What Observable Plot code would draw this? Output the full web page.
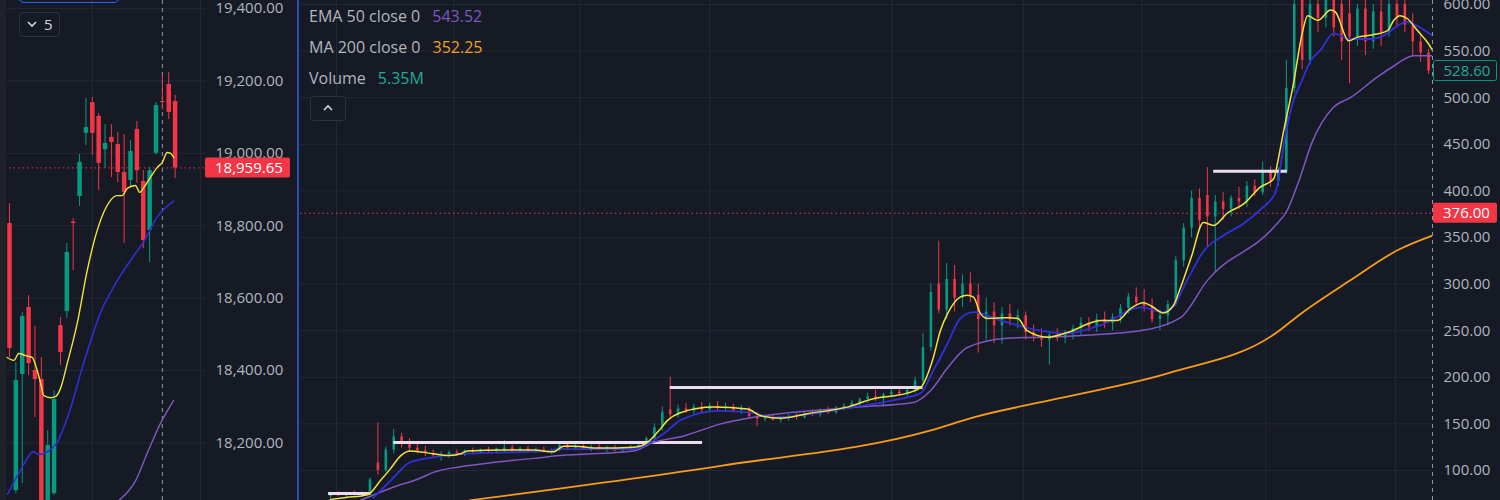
<!DOCTYPE html>
<html>
<head>
<meta charset="utf-8">
<script src="https://cdn.jsdelivr.net/npm/d3@7"></script>
<script src="https://cdn.jsdelivr.net/npm/@observablehq/plot@0.6"></script>
<style>
html,body{margin:0;padding:0;background:#161a25;}
#wrap{position:relative;width:1500px;height:500px;overflow:hidden;background:#161a25;font-family:"Open Sans",sans-serif;}
.pane{position:absolute;top:0;}
.lg{position:absolute;left:309px;font-size:16px;line-height:20px;color:#b2b5be;white-space:nowrap;}
.lg span.v{margin-left:12px;}
.btn{position:absolute;box-sizing:border-box;border:1px solid #2e323e;border-radius:4px;background:#161a25;}
</style>
</head>
<body>
<div id="wrap">
  <div id="leftPane" class="pane" style="left:0"></div>
  <div id="rightPane" class="pane" style="left:300px"></div>
  <div style="position:absolute;left:0;top:0;width:6px;height:500px;background:#202229"></div>
  <div style="position:absolute;left:297px;top:0;width:2px;height:500px;background:#2b4fb8"></div>
  <div style="position:absolute;left:18px;top:-14px;width:102px;height:17px;box-sizing:border-box;border:1.5px solid #2962ff;border-radius:6px"></div>
  <div class="btn" style="left:19px;top:12px;width:41px;height:25px">
    <svg width="39" height="23" style="position:absolute;left:0;top:0">
      <path d="M8,9 L12,13 L16,9" fill="none" stroke="#d1d4dc" stroke-width="1.6"/>
      <text x="24" y="17" fill="#d1d4dc" font-size="15" font-family="Open Sans">5</text>
    </svg>
  </div>
  <div class="btn" style="left:310px;top:96px;width:36px;height:25px">
    <svg width="34" height="23" style="position:absolute;left:0;top:0">
      <path d="M13,13 L17,9 L21,13" fill="none" stroke="#d1d4dc" stroke-width="1.6"/>
    </svg>
  </div>
  <div id="legend"></div>
</div>
<script>
// ---------- data ----------
const leftTicks = [18200, 18400, 18600, 18800, 19000, 19200, 19400];
const rightTicks = [100, 150, 200, 250, 300, 350, 400, 450, 500, 550, 600];
const leftGridBars = [13, 30];
const rightGridBars = [0.76, 15.6, 31.6, 48, 71.1, 87.7, 102.7, 118.4, 134.8];

// left pane (index) candles
const lOpen  = [18806,18068,18389,18574,18400,18375,17990,18060,18524,18563,18810,18881,19055,19140,19102,19010,19044,19024,18947,18925,19066,18922,18787,19000,19143,19190,19143];
const lHigh  = [18861,18422,18560,18607,18522,18436,18234,18345,18546,18751,18820,18997,19151,19154,19110,19079,19079,19057,19052,19035,19088,18952,18961,19140,19215,19223,19160];
const lLow   = [18436,18060,18088,18386,18270,17980,17980,18055,18414,18544,18676,18853,19021,18994,18897,18958,18933,18919,18751,18905,18917,18737,18698,18995,19120,19093,18930];
const lClose = [18461,18372,18549,18419,18375,17990,18193,18320,18450,18726,18806,18975,19071,19055,18972,19027,19030,18947,18892,19005,18952,18759,18952,19132,19140,19113,18959.65];

const lYellow = [[-0.36,18436],[0.68,18428],[1.46,18447],[2.51,18441],[3.56,18436],[4.35,18400],[4.87,18367],[5.38,18331],[6.44,18325],[7.22,18328],[8.0,18350],[9.06,18419],[10.63,18530],[12.2,18676],[13.77,18787],[15.86,18870],[16.9,18883],[17.7,18883],[18.48,18903],[19.78,18911],[20.46,18892],[21,18903],[22.1,18933],[23.2,18961],[24,18975],[24.76,19002],[25.3,19000],[25.8,18988]];
const lBlue = [[-0.31,18058],[1.73,18124],[3.77,18176],[4.55,18168],[7.22,18195],[9.1,18270],[11.6,18418],[14.3,18560],[16.95,18649],[19.47,18716],[21.04,18755],[23.23,18825],[25.75,18868]];
const lPurple = [[17.1,18040],[19.8,18096],[21.8,18179],[23.7,18254],[25.75,18317]];
const leftLast = 18959.65;
const leftCross = 24;

// right pane (stock) candles
const rOpen = [72,74,73,75,74,74,108,100,122,136,128,124,121,118,116,117,119,117,121,120,122,121,121,124,121,123,121,122,120,122,127,124,126,123,125,122,124,121,123,125,127,134,146,165,160,166,164,168,165,169,167,168,164,166,158,155,157,154,156,158,157,161,160,164,162,167,169,172,176,179,177,181,184,182,186,196,232,300,272,305,285,300,288,262,270,255,268,262,266,248,244,240,245,242,247,252,258,254,262,258,264,274,286,280,276,262,266,278,325,360,392,395,372,388,380,392,388,405,398,420,410,420,510,610,540,600,585,610,600,590,565,595,560,592,570,600,600,578,560,548];
const rHigh = [76,77,76,78,77,92,151,125,144,140,134,129,126,122,120,121,122,122,124,123,125,124,132,127,125,126,124,125,123,130,130,128,129,127,128,126,127,125,127,129,136,150,168,200,170,172,171,173,172,174,172,171,170,168,162,160,160,158,160,161,163,165,166,168,169,172,175,178,183,186,183,188,189,188,200,247,300,346,322,320,310,312,300,285,280,275,278,272,270,256,252,248,252,250,256,264,264,268,270,268,278,290,296,294,284,272,282,330,365,400,402,425,395,398,395,404,410,412,431,426,425,540,615,620,615,618,620,625,612,605,600,615,600,608,612,625,615,590,568,552];
const rLow = [70,72,71,73,72,73,95,98,118,124,120,118,115,113,110,113,115,115,118,117,119,118,119,119,118,120,118,119,117,120,122,121,122,120,121,119,120,118,121,122,125,130,142,155,156,161,160,162,162,164,163,162,160,155,147,152,153,151,153,154,155,158,157,160,160,164,166,169,172,174,168,178,180,179,183,192,228,268,262,270,275,280,226,240,236,235,255,252,240,238,232,213,238,236,240,245,249,248,252,250,258,268,276,270,258,250,255,276,318,350,360,340,312,368,372,380,382,394,395,404,405,418,505,530,535,570,575,565,540,515,555,545,552,555,565,575,570,545,538,525];
const rClose = [74,73,75,74,76,90,100,122,136,128,124,121,118,116,117,119,117,121,120,122,121,123,124,121,123,121,122,120,122,127,124,126,123,125,122,124,121,123,125,127,134,146,162,160,166,164,168,165,169,167,168,164,166,158,155,157,154,156,158,157,161,160,164,162,167,169,172,176,179,177,181,184,182,186,196,232,291,272,305,285,300,288,262,270,255,268,262,266,248,244,240,245,242,247,252,258,254,262,258,264,274,286,280,276,262,266,278,325,360,392,368,372,388,380,392,388,405,398,420,410,420,510,600,540,600,585,610,575,560,565,595,560,592,570,600,585,578,560,548,528.6];

const rYellow = [[0,69],[2,71],[4.7,74],[6.3,89],[7.6,102],[8.9,116],[10.1,121],[13,118],[14.8,116],[16.5,118],[17.3,121],[22,122],[25.7,122],[28.2,120],[29.5,126],[30.8,126],[34,124],[38.4,125],[40.1,130],[41.5,142],[42.7,154],[44.3,162],[48.5,168],[52.8,166],[54.4,159],[57,156],[60.4,161],[65.4,168],[68.7,177],[73,183],[74.7,189],[76.3,221],[77.2,250],[78.1,268],[79.7,286],[80.6,288],[81.4,286],[82.3,268],[83.2,263],[85.7,264],[87,263],[88.2,250],[90.8,243],[93.3,248],[97.5,261],[99.6,261],[101.3,274],[102.9,280],[104,276],[105.4,269],[106.7,277],[107.6,296],[109,330],[110.5,366],[111.8,363],[113.5,376],[115.6,386],[117.7,404],[119.4,413],[120,435],[120.6,462],[121.9,515],[123,569],[123.7,588],[125,583],[126.6,594],[127.2,592],[128.9,561],[130,565],[131.6,567],[133.8,572],[134.6,583],[135.4,588],[136.3,585],[137.6,572],[138.9,559],[139.5,551]];
const rBlue = [[5.4,71],[7.6,89],[10.1,109],[13,114],[17.3,118],[27.8,121],[28.6,123],[38.4,123],[40.2,129],[42.7,143],[44.3,154],[49.2,164],[53.2,162],[56.1,157],[66.2,168],[72.2,177],[74.7,183],[76.3,207],[78.1,236],[79.7,263],[81.4,270],[84.8,261],[90,250],[93,247],[97.5,256],[102.6,275],[105.4,270],[106.7,276],[108.5,305],[110.5,335],[113,352],[115.6,365],[117.7,380],[119.6,398],[120.9,461],[121.9,497],[122.8,515],[124.1,540],[125.3,551],[127,569],[129.1,563],[131.6,563],[133.8,569],[135,577],[136.3,581],[137.6,577],[138.9,570],[139.5,567]];
const rPurple = [[3.8,68],[7.6,81],[11.4,92],[13,98],[17.3,105],[25.7,113],[29.1,116],[38.4,121],[40.5,129],[44.7,137],[49.4,150],[52.8,156],[66.7,168],[73.8,173],[76,186],[78.1,210],[80.6,232],[85.7,242],[90,243],[102.5,250],[107.6,264],[111,304],[119.4,361],[121.1,379],[122.6,411],[124.2,451],[127,490],[129.1,500],[132.5,522],[134.6,534],[137.1,545],[139.5,545]];
const rOrange = [[17.6,68],[49.4,105],[76,143],[81.4,157],[92,177],[106.3,205],[119.6,247],[122.8,268],[129.1,304],[135,336],[139.5,352]];

const levelValue = [75.3, 130, 189, 421];
const levelFrom  = [-0.25, 8, 43, 111.8];
const levelTo    = [5.1, 47.1, 75, 121.1];

const rightMark = 376;
const rightLast = 528.6;
const rightCross = 139.5;

const legendNames  = ["EMA 50 close 0", "MA 200 close 0", "Volume"];
const legendValues = ["543.52", "352.25", "5.35M"];
const legendColors = ["#7e57c2", "#f0a020", "#22ab94"];

// ---------- styling ----------
const gridColor = "#242835";
const upColor = "#089981", downColor = "#f23645";
const col = d => d.c >= d.o ? upColor : downColor;
const baseStyle = {background: "transparent", color: "#b2b5be", fontFamily: "'Open Sans', sans-serif", fontSize: "15px", overflow: "visible"};

function toCandles(o, h, l, c) { return o.map((v, i) => ({i, o: v, h: h[i], l: l[i], c: c[i]})); }
const L = toCandles(lOpen, lHigh, lLow, lClose);
const R = toCandles(rOpen, rHigh, rLow, rClose);
const levels = levelValue.map((v, k) => ({v, a: levelFrom[k], b: levelTo[k]}));
const ln = (data, stroke, w) => Plot.line(data, {x: d => d[0], y: d => d[1], stroke, strokeWidth: w, curve: "monotone-x", clip: true});

const left = Plot.plot({
  width: 296, height: 500, marginLeft: 0, marginRight: 91, marginTop: 0, marginBottom: 0,
  x: {domain: [-1.41, 30.77], axis: null},
  y: {domain: [18041, 19422], axis: null},
  style: baseStyle,
  marks: [
    Plot.ruleY(leftTicks, {stroke: gridColor}),
    Plot.ruleX(leftGridBars, {stroke: gridColor}),
    Plot.axisY(leftTicks, {anchor: "right", tickSize: 0, tickPadding: 10, tickFormat: d3.format(",.2f"), label: null}),
    Plot.ruleX([leftCross], {stroke: "#9598a1", strokeDasharray: "4,4"}),
    Plot.ruleY([leftLast], {stroke: downColor, strokeDasharray: "1.5,3"}),
    Plot.ruleX(L, {x: "i", y1: "l", y2: "h", stroke: col, strokeWidth: 1, clip: true}),
    Plot.ruleX(L, {x: "i", y1: "o", y2: "c", stroke: col, strokeWidth: 4.5, clip: true}),
    ln(lPurple, "#7e57c2", 1.4),
    ln(lBlue, "#2f2fd0", 1.6),
    ln(lYellow, "#f2e43a", 1.4)
  ]
});

const right = Plot.plot({
  width: 1200, height: 500, marginLeft: 0, marginRight: 68, marginTop: 0, marginBottom: 0,
  x: {domain: [-3.8, 139.5], axis: null},
  y: {domain: [67.8, 604.3], axis: null},
  style: baseStyle,
  marks: [
    Plot.ruleY(rightTicks, {stroke: gridColor}),
    Plot.ruleX(rightGridBars, {stroke: gridColor}),
    Plot.axisY(rightTicks, {anchor: "right", tickSize: 0, tickPadding: 11, tickFormat: d3.format(".2f"), label: null}),
    Plot.ruleY([rightMark], {stroke: downColor, strokeDasharray: "1.5,3"}),
    Plot.ruleX(R, {x: "i", y1: "l", y2: "h", stroke: col, strokeWidth: 1, clip: true}),
    Plot.ruleX(R, {x: "i", y1: "o", y2: "c", stroke: col, strokeWidth: 2.6, clip: true}),
    Plot.ruleY(levels, {y: "v", x1: "a", x2: "b", stroke: "#ecdcef", strokeWidth: 3}),
    ln(rOrange, "#f59c1a", 1.8),
    ln(rPurple, "#7e57c2", 1.5),
    ln(rBlue, "#3030d8", 1.8),
    ln(rYellow, "#f2e43a", 1.5),
    Plot.ruleX([rightCross], {stroke: "#9598a1", strokeDasharray: "4,4"})
  ]
});

document.getElementById("leftPane").appendChild(left);
document.getElementById("rightPane").appendChild(right);

function tag(svg, plot, value, text, x0, w, fill, stroke, color) {
  const s = plot.scale("y");
  const y = d3.scaleLinear(s.domain, s.range)(value);
  const g = d3.select(svg).append("g");
  g.append("rect").attr("x", x0).attr("y", y - 10).attr("width", w).attr("height", 20).attr("rx", 2)
    .attr("fill", fill).attr("stroke", stroke);
  g.append("text").attr("x", x0 + 10).attr("y", y).attr("dy", "0.36em").attr("fill", color)
    .attr("text-anchor", "start")
    .attr("font-size", 15).attr("font-family", "'Open Sans', sans-serif").text(text);
}
tag(left, left, leftLast, d3.format(",.2f")(leftLast), 205, 85, downColor, "none", "#ffffff");
tag(right, right, rightMark, d3.format(".2f")(rightMark), 1133, 64, downColor, "none", "#ffffff");
tag(right, right, rightLast, d3.format(".2f")(rightLast), 1133.5, 63, "#161a25", "#089981", "#22ab94");

const lg = document.getElementById("legend");
legendNames.forEach((n, k) => {
  const d = document.createElement("div");
  d.className = "lg";
  d.style.top = (6 + k * 31) + "px";
  d.innerHTML = n + '<span class="v" style="color:' + legendColors[k] + '">' + legendValues[k] + "</span>";
  lg.appendChild(d);
});
</script>
</body>
</html>
